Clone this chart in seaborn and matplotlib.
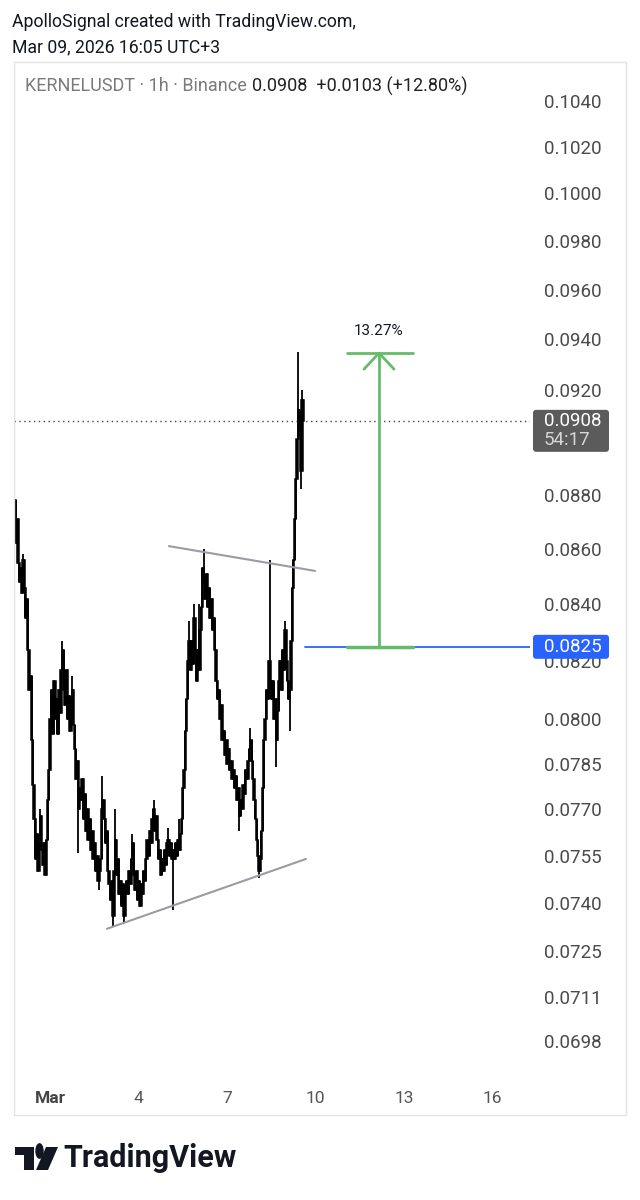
import numpy as np
import pandas as pd
import matplotlib
matplotlib.use("Agg")
import matplotlib.pyplot as plt
import matplotlib.dates as mdates
from matplotlib.patches import Rectangle, FancyBboxPatch, Polygon, Circle
from matplotlib.ticker import NullLocator
import seaborn as sns

sns.set_style("white")
plt.rcParams['font.family'] = ['Roboto', 'DejaVu Sans']

# ---------------- data ----------------
symbol = "KERNELUSDT"
start_time = "2026-02-27 19:00"
first_open = 0.0866
closes = [
    0.0878, 0.0862, 0.0871, 0.0855, 0.0848, 0.0853, 0.0844, 0.0856, 0.0846, 0.0835,
    0.0842, 0.0824, 0.0810, 0.0815, 0.0793, 0.0778, 0.0767, 0.0754, 0.0762, 0.0750,
    0.0759, 0.0768, 0.0757, 0.0752, 0.0759, 0.0749, 0.0760, 0.0773, 0.0783, 0.0800,
    0.0810, 0.0795, 0.0813, 0.0800, 0.0807, 0.0795, 0.0810, 0.0802, 0.0817, 0.0824,
    0.0810, 0.0805, 0.0817, 0.0800, 0.0808, 0.0796, 0.0807, 0.0810, 0.0798, 0.0790,
    0.0780, 0.0786, 0.0770, 0.0777, 0.0773, 0.0780, 0.0767, 0.0775, 0.0763, 0.0770,
    0.0760, 0.0767, 0.0757, 0.0763, 0.0754, 0.0759, 0.0750, 0.0755, 0.0747, 0.0750,
    0.0754, 0.0770, 0.0773, 0.0767, 0.0759, 0.0763, 0.0750, 0.0746, 0.0741, 0.0747,
    0.0736, 0.0750, 0.0760, 0.0749, 0.0754, 0.0743, 0.0747, 0.0739, 0.0746, 0.0736,
    0.0744, 0.0747, 0.0743, 0.0750, 0.0746, 0.0754, 0.0759, 0.0749, 0.0744, 0.0750,
    0.0741, 0.0747, 0.0739, 0.0746, 0.0743, 0.0750, 0.0747, 0.0754, 0.0760, 0.0755,
    0.0763, 0.0759, 0.0767, 0.0770, 0.0763, 0.0768, 0.0760, 0.0754, 0.0757, 0.0749,
    0.0754, 0.0750, 0.0757, 0.0752, 0.0759, 0.0760, 0.0755, 0.0759, 0.0754, 0.0757,
    0.0754, 0.0759, 0.0755, 0.0760, 0.0757, 0.0762, 0.0767, 0.0777, 0.0783, 0.0796,
    0.0807, 0.0820, 0.0827, 0.0817, 0.0827, 0.0819, 0.0835, 0.0824, 0.0813, 0.0824,
    0.0817, 0.0831, 0.0839, 0.0853, 0.0848, 0.0842, 0.0851, 0.0839, 0.0846, 0.0835,
    0.0842, 0.0831, 0.0835, 0.0824, 0.0813, 0.0807, 0.0810, 0.0800, 0.0805, 0.0793,
    0.0796, 0.0788, 0.0793, 0.0785, 0.0790, 0.0783, 0.0786, 0.0780, 0.0783, 0.0777,
    0.0781, 0.0773, 0.0777, 0.0768, 0.0773, 0.0770, 0.0778, 0.0775, 0.0783, 0.0780,
    0.0786, 0.0790, 0.0793, 0.0786, 0.0780, 0.0773, 0.0767, 0.0760, 0.0755, 0.0750,
    0.0754, 0.0763, 0.0777, 0.0793, 0.0800, 0.0810, 0.0807, 0.0820, 0.0813, 0.0807,
    0.0813, 0.0800, 0.0807, 0.0793, 0.0803, 0.0813, 0.0820, 0.0810, 0.0824, 0.0817,
    0.0831, 0.0820, 0.0813, 0.0807, 0.0810, 0.0827, 0.0846, 0.0856, 0.0871, 0.0886,
    0.0901, 0.0912, 0.0905, 0.0889, 0.0916, 0.0908,
]
wick_high_idx = [0, 7, 21, 39, 47, 71, 82, 96, 114, 125, 134, 142, 146, 150, 154, 169, 192, 208, 220, 231, 234]
wick_high_val = [0.0880, 0.0858, 0.0770, 0.0827, 0.0815, 0.0781, 0.0770, 0.0762, 0.0773, 0.0764,
                 0.0767, 0.0834, 0.0840, 0.0840, 0.0860, 0.0803, 0.0797, 0.0856, 0.0834, 0.0935, 0.0920]
wick_low_idx = [52, 69, 80, 89, 129, 183, 199, 213, 224, 233]
wick_low_val = [0.0756, 0.0744, 0.0733, 0.0734, 0.0738, 0.0763, 0.0748, 0.0784, 0.0796, 0.0882]

price_ticks = [0.1040, 0.1020, 0.1000, 0.0980, 0.0960, 0.0940, 0.0920, 0.0880, 0.0860,
               0.0840, 0.0820, 0.0800, 0.0785, 0.0770, 0.0755, 0.0740, 0.0725, 0.0711, 0.0698]
date_ticks = ["2026-03-01", "2026-03-04", "2026-03-07", "2026-03-10", "2026-03-13", "2026-03-16"]
date_labels = ["Mar", "4", "7", "10", "13", "16"]

last_price = 0.0908
countdown = "54:17"
level_price = 0.0825
target_price = 0.09345
move_label = "13.27%"
upper_line_t = ["2026-03-05 00:48", "2026-03-09 23:36"]
upper_line_p = [0.0861, 0.0852]
lower_line_t = ["2026-03-02 22:22", "2026-03-09 16:16"]
lower_line_p = [0.0732, 0.0754]
level_start_t = "2026-03-09 15:28"
arrow_t = "2026-03-12 03:40"
arrow_span_t = ["2026-03-11 01:38", "2026-03-13 07:19"]
x_range = ["2026-02-27 18:43", "2026-03-17 06:30"]
y_range = [0.068651, 0.10573]

# ---------------- figure ----------------
W, H = 640, 1200
fig = plt.figure(figsize=(W / 100, H / 100), dpi=100)
fig.patch.set_facecolor("white")

def fx(x):
    return x / W

def fy(y):
    return 1 - y / H

ax = fig.add_axes([fx(14), fy(1080), 516 / W, (1080 - 62) / H])
ax.set_facecolor("white")
for s in ax.spines.values():
    s.set_visible(False)

times = pd.date_range(start_time, periods=len(closes), freq="h")
t = mdates.date2num(times.to_pydatetime())
c = np.array(closes)
o = np.array([first_open] + closes[:-1])
hi = np.maximum(o, c)
lo = np.minimum(o, c)
for i, v in zip(wick_high_idx, wick_high_val):
    hi[i] = max(hi[i], v)
for i, v in zip(wick_low_idx, wick_low_val):
    lo[i] = min(lo[i], v)
body_lo = np.minimum(o, c)
body_hi = np.maximum(o, c)

ax.set_yscale("log")
ax.vlines(t, lo, hi, color="black", lw=1.3, zorder=3)
ax.bar(t, body_hi - body_lo, bottom=body_lo, width=1 / 24, color="black",
       edgecolor="black", linewidth=1.1, align="center", zorder=3)

def tn(s):
    return mdates.date2num(pd.Timestamp(s).to_pydatetime())

# trend lines
sns.lineplot(x=[tn(s) for s in upper_line_t], y=upper_line_p, ax=ax, color="#9a9ca3", lw=1.5, zorder=4)
sns.lineplot(x=[tn(s) for s in lower_line_t], y=lower_line_p, ax=ax, color="#9a9ca3", lw=1.5, zorder=4)

ax.set_xlim(tn(x_range[0]), tn(x_range[1]))
ax.set_ylim(*y_range)

# last price dotted line
ax.axhline(last_price, color="#444444", lw=1.0, ls=(0, (1, 2.5)), zorder=2)
# level line
ax.plot([tn(level_start_t), tn(x_range[1])], [level_price, level_price], color="#2962ff", lw=1.3, zorder=4)

# green measure arrow
green = "#66bb6a"
xa = tn(arrow_t)
x0, x1 = tn(arrow_span_t[0]), tn(arrow_span_t[1])
ax.plot([xa, xa], [level_price, target_price], color=green, lw=2.0, zorder=5, solid_capstyle="butt")
ax.plot([x0, x1], [target_price, target_price], color=green, lw=2.0, zorder=5)
ax.plot([x0, x1], [level_price, level_price], color=green, lw=2.5, zorder=5)
dx = 15 / 29.5
ax.plot([xa - dx, xa, xa + dx], [target_price * 0.9932, target_price, target_price * 0.9932],
        color=green, lw=2.0, zorder=5)
ax.text(xa, target_price * 1.0065, move_label, ha="center", va="bottom", fontsize=11, color="#131722")

# axes ticks
ax.set_yticks(price_ticks)
ax.set_yticklabels([f"{p:.4f}" for p in price_ticks])
ax.yaxis.set_minor_locator(NullLocator())
ax.yaxis.tick_right()
ax.tick_params(axis="y", length=0, pad=10, labelsize=13.5, labelcolor="#4a4a4a")
ax.set_xticks([tn(s) for s in date_ticks])
ax.set_xticklabels(date_labels)
ax.xaxis.set_minor_locator(NullLocator())
ax.tick_params(axis="x", length=0, pad=8, labelsize=12.5, labelcolor="#555555")
ax.get_xticklabels()[0].set_fontweight("bold")
ax.get_xticklabels()[0].set_color("#444444")
ax.grid(False)

# outer frame
fig.add_artist(Rectangle((fx(14), fy(1115)), 612 / W, (1115 - 62) / H, transform=fig.transFigure,
                         fill=False, ec="#e4e4e4", lw=1))

# price labels on the scale
def ydisp(p):
    return ax.transData.transform((ax.get_xlim()[0], p))[1]

yl = ydisp(last_price)
fig.add_artist(FancyBboxPatch((533, yl - 31), 76, 42, boxstyle="round,pad=0,rounding_size=3",
                              transform=None, fc="#5b5b5b", ec="none", zorder=10))
fig.text(fx(544), yl / H, f"{last_price:.4f}", va="center", ha="left", fontsize=13.5, color="white", zorder=11)
fig.text(fx(544), (yl - 19) / H, countdown, va="center", ha="left", fontsize=13.5, color="#d6d6d6", zorder=11)

yb = ydisp(level_price)
fig.add_artist(FancyBboxPatch((533, yb - 12), 76, 24, boxstyle="round,pad=0,rounding_size=3",
                              transform=None, fc="#2962ff", ec="none", zorder=10))
fig.text(fx(544), yb / H, f"{level_price:.4f}", va="center", ha="left", fontsize=13.5, color="white", zorder=11)

# header texts
fig.text(fx(12), fy(22), "ApolloSignal created with TradingView.com,", va="center", ha="left",
         fontsize=12.7, color="#131722")
fig.text(fx(12), fy(47), "Mar 09, 2026 16:05 UTC+3", va="center", ha="left", fontsize=12.7, color="#131722")
fig.text(fx(25), fy(86), f"{symbol} · 1h · Binance", va="center", ha="left", fontsize=13, color="#7a7a7a")
fig.text(fx(252), fy(86), "0.0908  +0.0103 (+12.80%)", va="center", ha="left", fontsize=13, color="#222222")

# TradingView logo
logo_col = "#131722"
def P(x, y):
    return (fx(x), fy(y))
fig.add_artist(Polygon([P(15, 1147), P(34, 1147), P(34, 1170), P(24, 1170), P(24, 1155), P(15, 1155)],
                       closed=True, transform=fig.transFigure, fc=logo_col, ec="none"))
fig.add_artist(Circle(P(39.5, 1151), 4.2 / W, transform=fig.transFigure, fc=logo_col, ec="none"))
fig.add_artist(Polygon([P(46, 1147), P(58, 1147), P(48, 1170), P(36, 1170)], closed=True,
                       transform=fig.transFigure, fc=logo_col, ec="none"))
fig.text(fx(63), fy(1158), "TradingView", va="center", ha="left", fontsize=22, fontweight="bold", color=logo_col)

fig.savefig("out.png", dpi=100, facecolor="white")
